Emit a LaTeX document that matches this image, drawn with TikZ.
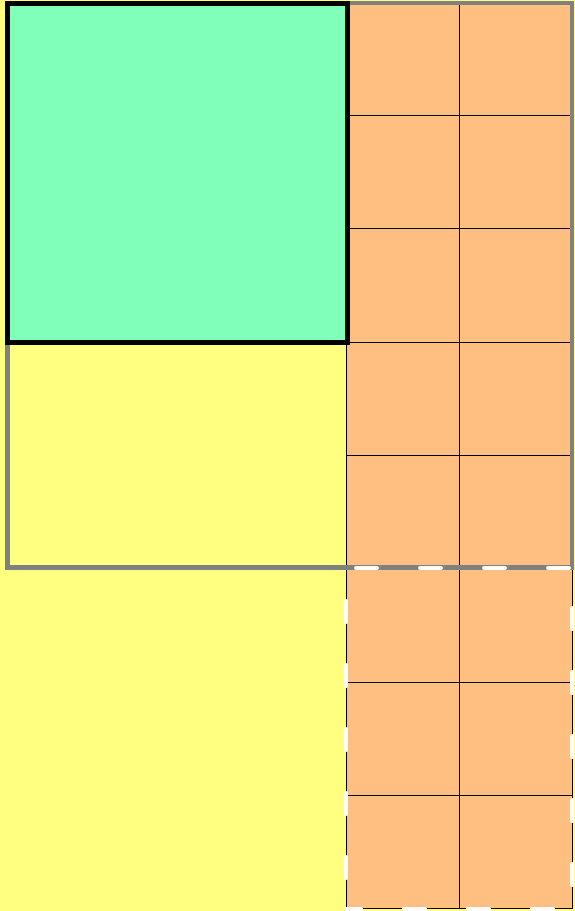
\documentclass[tikz,border=0pt]{standalone}
\usepackage{xcolor}
\definecolor{area-yellow}{HTML}{FFFF80}
\definecolor{cell-orange}{HTML}{FFBF80}
\definecolor{square-green}{HTML}{80FFBA}
\definecolor{frame-gray}{HTML}{808080}

\begin{document}
\begin{tikzpicture}[x=1pt, y=-1pt,
    cell/.style={fill=cell-orange, draw=black, line width=0.9pt},
    outerframe/.style={draw=frame-gray, line width=4.5pt},
    squareframe/.style={draw=black, line width=5pt},
    cutline/.style={draw=white, line width=4pt, line cap=round,
                    dash pattern=on 21pt off 43pt, dash phase=33pt}]
    % background
    \fill[area-yellow] (0,0) rectangle (575,911);
    \useasboundingbox (0,0) rectangle (575,911);
    % orange unit cells, 2 columns x 8 rows
    \foreach \r in {0,...,7}
      \foreach \c in {0,1}
        \draw[cell] ({346+113*\c},{2+113.35*\r}) rectangle +(113,113.35);
    % big square
    \fill[square-green] (7.5,3.5) rectangle (347.5,342.5);
    \draw[outerframe] (7.5,3) rectangle (572,567.5);
    \draw[squareframe] (7.5,3.5) rectangle (347.5,342.5);
    % dashed strip
    \draw[cutline] (346,909) -- (346,568) -- (572,568) -- (572,909) -- cycle;
\end{tikzpicture}
\end{document}
